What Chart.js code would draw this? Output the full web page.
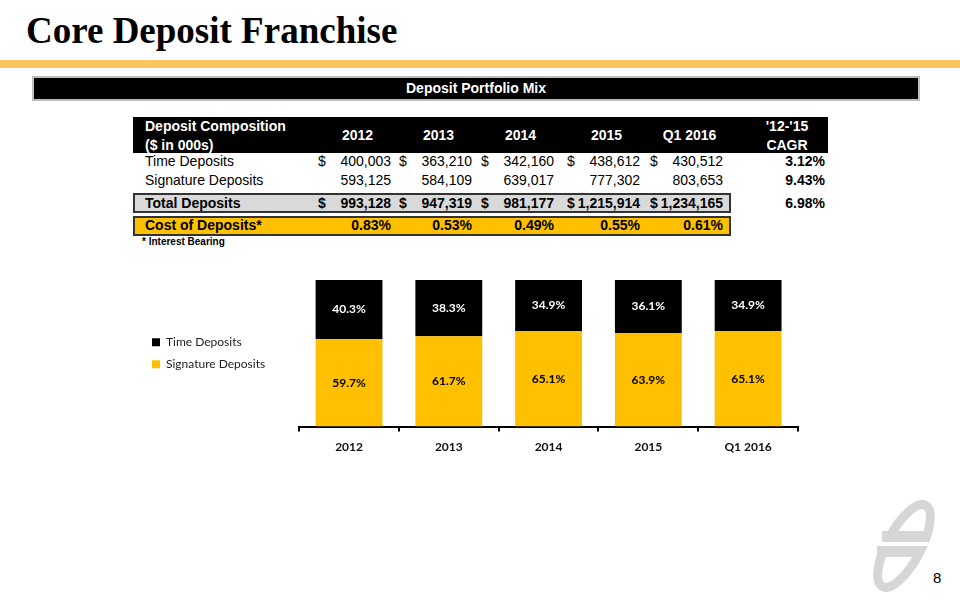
<!DOCTYPE html>
<html>
<head>
<meta charset="utf-8">
<script src="https://cdn.jsdelivr.net/npm/chart.js@4.4.1/dist/chart.umd.min.js"></script>
<style>
  body { margin: 0; width: 960px; height: 600px; background: #fff; position: relative; overflow: hidden; font-family: "Liberation Sans", Arial, sans-serif; }
  .abs { position: absolute; }
  #title { left: 26px; top: 9px; font-family: "Liberation Serif", serif; font-weight: bold; font-size: 37px; color: #000; white-space: nowrap; }
  #rule { left: 0; top: 60px; width: 960px; height: 8px; background: #fdc55e; }
  #banner { left: 32px; top: 76px; width: 884px; height: 21px; background: #000; border: 2px solid #bdbdbd; color: #fff; font-weight: bold; font-size: 14px; text-align: center; line-height: 21px; }
  #thead { left: 133px; top: 117px; width: 695px; height: 36px; background: #000; }
  .box { left: 133px; width: 594px; border: 2px solid #333; }
  .cell { position: absolute; font-size: 14px; white-space: nowrap; color: #000; }
  .money { display: flex; justify-content: space-between; }
  .hd { color: #fff; font-weight: bold; text-align: center; }
  .b { font-weight: bold; }
  #chartWrap { left: 142px; top: 262px; width: 668px; height: 200px; }
  #pageNo { left: 933px; top: 569px; font-size: 15px; }
</style>
</head>
<body>
<div id="title" class="abs">Core Deposit Franchise</div>
<div id="rule" class="abs"></div>
<div id="banner" class="abs">Deposit Portfolio Mix</div>
<div id="thead" class="abs"></div>
<div class="abs box" style="top:193px;height:16px;background:#d9d9d9;"></div>
<div class="abs box" style="top:216px;height:16px;background:#ffc000;"></div>
<div id="table"></div>
<div id="chartWrap" class="abs"><canvas id="mix"></canvas></div>
<svg class="abs" style="left:866px;top:496px" width="72" height="100" viewBox="0 0 72 100">
  <ellipse cx="38" cy="50" rx="17" ry="46" transform="rotate(28 38 50)" fill="none" stroke="#d6d6d6" stroke-width="9"/>
  <rect x="16" y="35" width="46" height="11" fill="#d6d6d6"/>
  <rect x="11" y="50" width="46" height="11" fill="#d6d6d6"/>
  <rect x="6" y="46" width="60" height="4" fill="#fff"/>
</svg>
<div id="pageNo" class="abs">8</div>

<script>
const years = ['2012', '2013', '2014', '2015', 'Q1 2016'];
const timeDeposits = [400003, 363210, 342160, 438612, 430512];
const signatureDeposits = [593125, 584109, 639017, 777302, 803653];
const totalDeposits = [993128, 947319, 981177, 1215914, 1234165];
const costOfDeposits = ['0.83%', '0.53%', '0.49%', '0.55%', '0.61%'];
const cagr = ['3.12%', '9.43%', '6.98%'];

// bar chart shares (%)
const timeShare = [40.3, 38.3, 34.9, 36.1, 34.9];
const signatureShare = [59.7, 61.7, 65.1, 63.9, 65.1];

// ---- table ----
const colLeft = [318, 399, 481, 567, 650];
const colW = 73;
const fmt = n => n.toLocaleString('en-US');
let html = '';
const cell = (x, y, w, inner, cls, extra) =>
  `<div class="cell ${cls || ''}" style="left:${x}px;top:${y}px;${w ? 'width:' + w + 'px;' : ''}${extra || ''}">${inner}</div>`;

html += cell(145, 118, 0, 'Deposit Composition', 'hd', 'text-align:left');
html += cell(145, 137, 0, '($ in 000s)', 'hd', 'text-align:left');
years.forEach((y, i) => { html += cell(colLeft[i], 127, colW + 6, y, 'hd'); });
html += cell(745, 118, 84, "'12-'15", 'hd');
html += cell(745, 137, 84, 'CAGR', 'hd');

html += cell(145, 153, 0, 'Time Deposits');
html += cell(145, 172, 0, 'Signature Deposits');
html += cell(145, 195, 0, 'Total Deposits', 'b');
html += cell(145, 217, 0, 'Cost of Deposits*', 'b');
years.forEach((y, i) => {
  html += cell(colLeft[i], 153, colW, `<span>$</span><span>${fmt(timeDeposits[i])}</span>`, 'money');
  html += cell(colLeft[i], 172, colW, `<span></span><span>${fmt(signatureDeposits[i])}</span>`, 'money');
  html += cell(colLeft[i], 195, colW, `<span>$</span><span>${fmt(totalDeposits[i])}</span>`, 'money b');
  html += cell(colLeft[i], 217, colW, `<span></span><span>${costOfDeposits[i]}</span>`, 'money b');
});
html += cell(745, 153, 80, cagr[0], 'b', 'text-align:right');
html += cell(745, 172, 80, cagr[1], 'b', 'text-align:right');
html += cell(745, 195, 80, cagr[2], 'b', 'text-align:right');
html += cell(142, 236, 0, '* Interest Bearing', 'b', 'font-size:10px;');
document.getElementById('table').innerHTML = html;

// ---- chart ----
const segmentLabels = {
  id: 'segmentLabels',
  afterDatasetsDraw(chart) {
    const ctx = chart.ctx;
    ctx.save();
    ctx.font = 'bold 12px Lato';
    ctx.textAlign = 'center';
    ctx.textBaseline = 'middle';
    chart.data.datasets.forEach((ds, di) => {
      chart.getDatasetMeta(di).data.forEach((bar, i) => {
        ctx.fillStyle = ds.labelColor;
        ctx.fillText(ds.data[i].toFixed(1) + '%', bar.x, (bar.y + bar.base) / 2);
      });
    });
    ctx.restore();
  }
};

// keep the legend centred on the plot area, not on the whole canvas
const legendToPlot = {
  id: 'legendToPlot',
  afterLayout(chart) {
    const lg = chart.legend;
    lg.top = chart.chartArea.top;
    lg.bottom = chart.chartArea.bottom;
    lg.height = lg.bottom - lg.top;
  }
};

new Chart(document.getElementById('mix'), {
  type: 'bar',
  data: {
    labels: years,
    datasets: [
      { label: 'Signature Deposits', data: signatureShare, backgroundColor: '#ffc000', labelColor: '#000000', stack: 's' },
      { label: 'Time Deposits', data: timeShare, backgroundColor: '#000000', labelColor: '#ffffff', stack: 's' }
    ]
  },
  options: {
    responsive: true,
    maintainAspectRatio: false,
    animation: false,
    layout: { padding: { top: 18, right: 12, left: 0, bottom: 0 } },
    datasets: { bar: { categoryPercentage: 1, barPercentage: 0.67 } },
    plugins: {
      legend: {
        position: 'left',
        reverse: true,
        labels: { boxWidth: 8, boxHeight: 8, padding: 10, color: '#222', font: { family: 'Lato', size: 12 } }
      },
      tooltip: { enabled: false }
    },
    scales: {
      x: {
        stacked: true,
        border: { display: true, color: '#000', width: 2 },
        grid: { display: true, offset: true, drawOnChartArea: false, drawTicks: true, tickLength: 5, color: '#000', lineWidth: 2 },
        ticks: { color: '#111', padding: 8, font: { family: 'Lato', size: 12, weight: 'bold' } }
      },
      y: {
        stacked: true,
        min: 0,
        max: 100,
        border: { display: false },
        grid: { display: false },
        ticks: { display: false },
        afterFit: scale => { scale.width = 24; }
      }
    }
  },
  plugins: [segmentLabels, legendToPlot]
});
</script>
</body>
</html>
